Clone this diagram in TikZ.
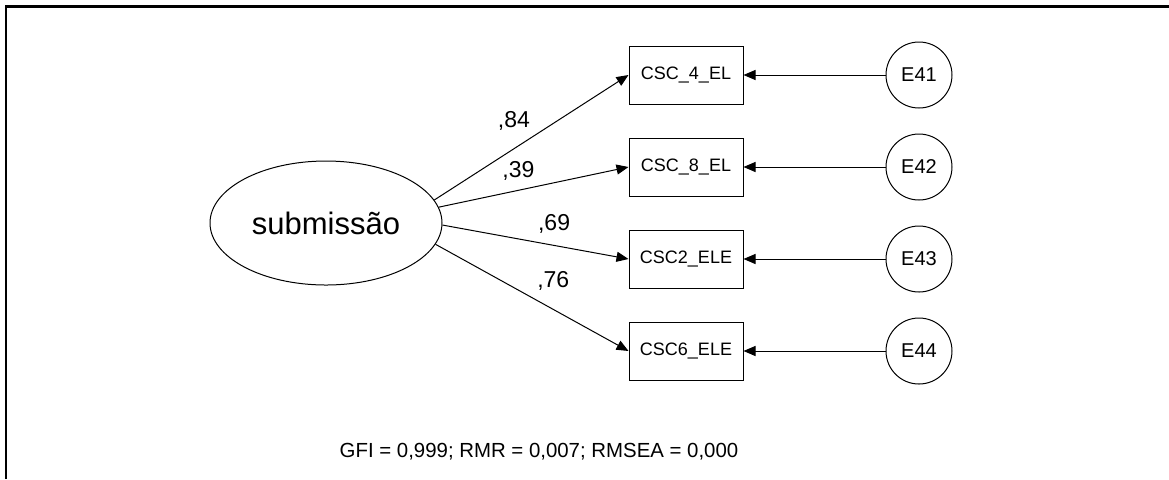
\documentclass[tikz,border=0pt]{standalone}
\usepackage{fontspec}
\setmainfont{Liberation Sans}
\usetikzlibrary{arrows.meta,shapes.geometric,positioning}

\begin{document}
\begin{tikzpicture}[x=0.5pt, y=-0.5pt,
    lat/.style={draw, ellipse, minimum width=116pt, minimum height=62pt, inner sep=0pt, line width=0.5pt, font=\fontsize{15.5}{18}\selectfont},
    obs/.style={draw, rectangle, minimum width=57pt, minimum height=29pt, inner sep=0pt, line width=0.5pt, font=\fontsize{9}{10}\selectfont},
    err/.style={draw, circle, minimum size=33pt, inner sep=0pt, line width=0.5pt, font=\fontsize{10}{12}\selectfont},
    arr/.style={-{Triangle[length=6pt,width=5pt]}, line width=0.5pt},
    lbl/.style={font=\fontsize{11.5}{13}\selectfont, inner sep=1pt}
]
\useasboundingbox (0,0) rectangle (1169,479);
\draw[line width=1.4pt] (6,479) -- (6,6.5) -- (1169,6.5);

\node[lat] (sub) at (326,223) {submissão};
\node[obs] (c4) at (686,75) {CSC\_4\_EL};
\node[obs] (c8) at (686,167) {CSC\_8\_EL};
\node[obs] (c2) at (686,259) {CSC2\_ELE};
\node[obs] (c6) at (686,351) {CSC6\_ELE};
\node[err] (e41) at (919,75) {E41};
\node[err] (e42) at (919,167) {E42};
\node[err] (e43) at (919,259) {E43};
\node[err] (e44) at (919,351) {E44};

\draw[arr] (sub.12) -- node[lbl, pos=0.41, yshift=14pt] {,84} (c4.west);
\draw[arr] (sub.8) -- node[lbl, pos=0.42, yshift=9.5pt] {,39} (c8.west);
\draw[arr] (sub.-1) -- node[lbl, pos=0.6, yshift=10.5pt] {,69} (c2.west);
\draw[arr] (sub.-11) -- node[lbl, pos=0.61, yshift=14pt] {,76} (c6.west);

\draw[arr] (e41) -- (c4);
\draw[arr] (e42) -- (c8);
\draw[arr] (e43) -- (c2);
\draw[arr] (e44) -- (c6);

\node[font=\fontsize{10.2}{12}\selectfont] (fit) at (539,452) {GFI = 0,999; RMR = 0,007; RMSEA = 0,000};
\end{tikzpicture}
\end{document}
